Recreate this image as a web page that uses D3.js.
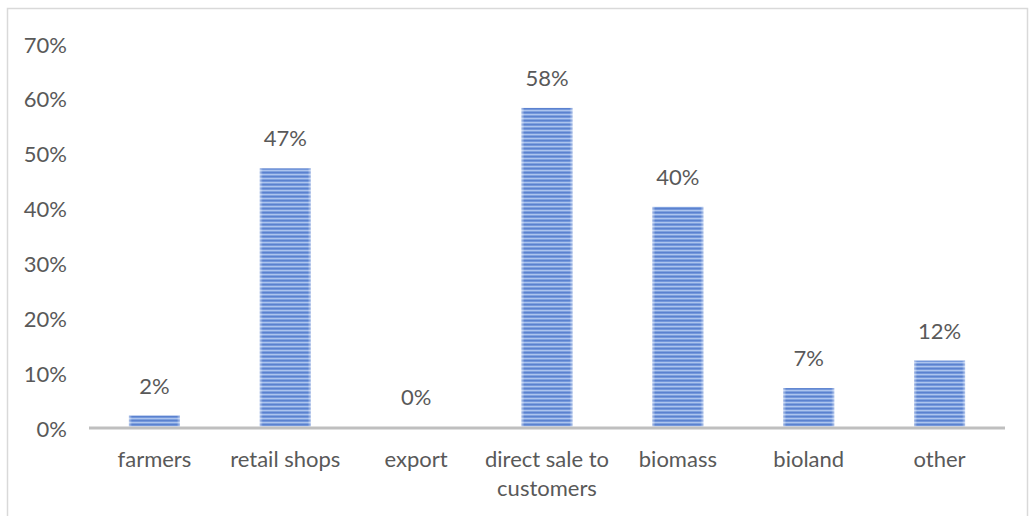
<!DOCTYPE html>
<html>
<head>
<meta charset="utf-8">
<script src="https://cdn.jsdelivr.net/npm/d3@7"></script>
<style>
  html, body { margin: 0; padding: 0; background: #fff; }
  svg { display: block; }
  text { font-family: Lato, "Open Sans", sans-serif; fill: #595959; }
</style>
</head>
<body>
<svg id="chart" width="1029" height="516"></svg>
<script>
// Sales channels (share of respondents, %)
const categories = ["farmers", "retail shops", "export", "direct sale to customers", "biomass", "bioland", "other"];
const shares = [2, 47, 0, 58, 40, 7, 12];
const yTicks = [0, 10, 20, 30, 40, 50, 60, 70];

const svg = d3.select("#chart");
const W = 1029, H = 516;
const margin = { left: 89, right: 24, top: 42, bottom: 89 };
const FONT = "22px";

// outer chart frame
svg.append("rect")
  .attr("x", 7.5).attr("y", 8.5)
  .attr("width", 1020).attr("height", 520)
  .attr("fill", "none").attr("stroke", "#d9d9d9").attr("stroke-width", 1.5);

const x = d3.scaleBand()
  .domain(categories)
  .range([margin.left, W - margin.right])
  .paddingInner(0.61).paddingOuter(0.305);

const y = d3.scaleLinear()
  .domain([0, 70])
  .range([H - margin.bottom - 0.5, margin.top]);

// striped fill for the bars
const defs = svg.append("defs");
const pat = defs.append("pattern")
  .attr("id", "stripes")
  .attr("patternUnits", "userSpaceOnUse")
  .attr("width", 8).attr("height", 4);
pat.append("rect").attr("width", 8).attr("height", 4).attr("fill", "#7498db");
pat.append("rect").attr("y", 0).attr("width", 8).attr("height", 1).attr("fill", "#5b81cf");
pat.append("rect").attr("y", 2).attr("width", 8).attr("height", 1.2).attr("fill", "#adc4ee");

const edge = defs.append("linearGradient").attr("id", "edge")
  .attr("x1", "0").attr("x2", "1").attr("y1", "0").attr("y2", "0");
[[0, 0.5], [0.06, 0.0], [0.94, 0.0], [1, 0.5]].forEach(([o, a]) => {
  edge.append("stop").attr("offset", o).attr("stop-color", "#ffffff").attr("stop-opacity", a);
});

// y axis labels (no grid lines)
const yAxis = d3.axisLeft(y).tickValues(yTicks).tickFormat(d => d + "%").tickSize(0).tickPadding(0);
const gy = svg.append("g").attr("transform", `translate(${67},3)`).call(yAxis);
gy.select(".domain").remove();
gy.attr("font-family", null).attr("font-size", null);
gy.selectAll("text").style("font-size", FONT).attr("fill", "#595959");

// bars
const bars = svg.append("g");
bars.selectAll("rect.bar")
  .data(shares)
  .join("rect")
  .attr("class", "bar")
  .attr("x", (d, i) => x(categories[i]))
  .attr("width", x.bandwidth())
  .attr("y", d => y(d))
  .attr("height", d => y(0) - y(d))
  .attr("fill", "url(#stripes)");
bars.selectAll("rect.edge")
  .data(shares)
  .join("rect")
  .attr("class", "edge")
  .attr("x", (d, i) => x(categories[i]))
  .attr("width", x.bandwidth())
  .attr("y", d => y(d))
  .attr("height", d => y(0) - y(d))
  .attr("fill", "url(#edge)");

// baseline
svg.append("line")
  .attr("x1", margin.left).attr("x2", W - margin.right)
  .attr("y1", y(0) + 1.5).attr("y2", y(0) + 1.5)
  .attr("stroke", "#bfbfbf").attr("stroke-width", 3);

// value labels
svg.append("g").selectAll("text")
  .data(shares)
  .join("text")
  .attr("x", (d, i) => x(categories[i]) + x.bandwidth() / 2)
  .attr("y", d => y(d) - 22)
  .attr("text-anchor", "middle")
  .style("font-size", FONT)
  .text(d => d + "%");

// category labels, wrapped to two lines where needed
const xAxis = d3.axisBottom(x).tickSize(0).tickPadding(0);
const gx = svg.append("g").attr("transform", `translate(0,${y(0)})`).call(xAxis);
gx.select(".domain").remove();
gx.attr("font-family", null).attr("font-size", null);
gx.selectAll("text").each(function (d) {
  const t = d3.select(this);
  t.text(null).attr("y", 0).attr("dy", null).style("font-size", FONT);
  const lines = d === "direct sale to customers" ? ["direct sale to", "customers"] : [d];
  lines.forEach((ln, k) => {
    t.append("tspan").attr("x", 0).attr("y", 40 + k * 29).text(ln);
  });
});
</script>
</body>
</html>
